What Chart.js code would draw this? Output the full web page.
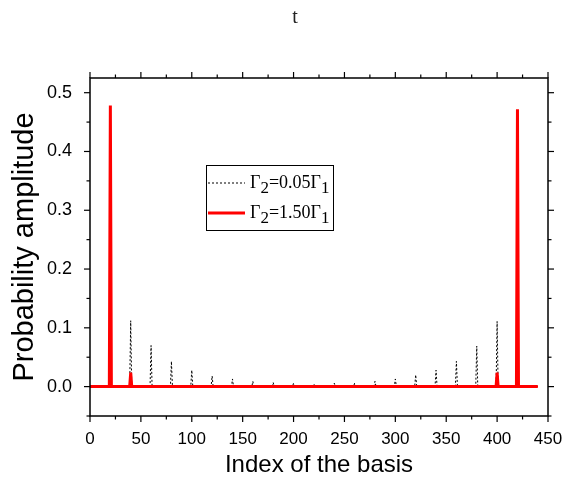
<!DOCTYPE html>
<html><head><meta charset="utf-8">
<script src="https://cdn.jsdelivr.net/npm/chart.js@4.4.0/dist/chart.umd.min.js"></script>
<style>html,body{margin:0;padding:0;background:#fff;}</style>
</head><body>
<canvas id="c" width="570" height="485" style="width:570px;height:485px;display:block"></canvas>
<script>
// ---- data ----
const chartTitle = 't';
const xAxisTitle = 'Index of the basis';
const yAxisTitle = 'Probability amplitude';
const seriesLabels = ['Γ2=0.05Γ1', 'Γ2=1.50Γ1'];
const basisRange = [0, 440];
const peakIndex = [20, 40, 60, 80, 100, 120, 140, 160, 180, 200, 220, 240, 260, 280, 300, 320, 340, 360, 380, 400, 420];
const amp005 = [0.46, 0.112, 0.070, 0.043, 0.028, 0.018, 0.013, 0.009, 0.007, 0.006, 0.005, 0.006, 0.006, 0.009, 0.013, 0.020, 0.028, 0.043, 0.069, 0.111, 0.46];
const amp150 = [0.478, 0.024, 0, 0, 0, 0, 0, 0, 0, 0, 0, 0, 0, 0, 0, 0, 0, 0, 0, 0.024, 0.472];
const xTicks = [0, 50, 100, 150, 200, 250, 300, 350, 400, 450];
const yTicks = [0.0, 0.1, 0.2, 0.3, 0.4, 0.5];

// build point lists (each peak is one basis index wide)
function buildPoints(amps) {
  const pts = [{x: basisRange[0], y: 0}];
  peakIndex.forEach((p, i) => {
    pts.push({x: p - 1, y: 0}, {x: p, y: amps[i]}, {x: p + 1, y: 0});
  });
  pts.push({x: basisRange[1], y: 0});
  return pts;
}

const fontSans = 'Liberation Sans';
const fontSerif = 'Liberation Serif';

function drawSubText(ctx, text, x, y, size) {
  // digit right after Γ is a subscript
  let cx = x;
  for (let i = 0; i < text.length; i++) {
    const ch = text[i];
    const sub = /[0-9]/.test(ch) && i > 0 && text[i - 1] === 'Γ';
    ctx.font = (sub ? size - 1 : size) + 'px "' + fontSerif + '"';
    ctx.fillText(ch, cx, sub ? y + 5 : y);
    cx += ctx.measureText(ch).width;
  }
}

const framePlugin = {
  id: 'frame',
  afterDatasetsDraw(chart) {
    const {ctx, chartArea: a, scales: {x, y}} = chart;
    ctx.save();
    ctx.strokeStyle = '#000';
    ctx.lineWidth = 1.5;
    ctx.strokeRect(a.left, a.top, a.right - a.left, a.bottom - a.top);
    ctx.lineWidth = 1.2;
    const seg = (x1, y1, x2, y2) => { ctx.beginPath(); ctx.moveTo(x1, y1); ctx.lineTo(x2, y2); ctx.stroke(); };
    for (let k = 0; k <= 18; k++) {
      const v = x.min + k * 25;
      const px = x.getPixelForValue(v);
      const len = k % 2 === 0 ? 6 : 3.5;
      seg(px, a.bottom, px, a.bottom + len);
      seg(px, a.top, px, a.top - len);
    }
    for (let k = 0; k <= 11; k++) {
      const v = -0.05 + k * 0.05;
      const py = y.getPixelForValue(v);
      const len = k % 2 === 1 ? 6 : 3.5;
      seg(a.left, py, a.left - len, py);
      seg(a.right, py, a.right + len, py);
    }
    // title
    ctx.fillStyle = '#222';
    ctx.font = '20px "' + fontSerif + '"';
    ctx.textAlign = 'center';
    ctx.textBaseline = 'alphabetic';
    ctx.fillText(chartTitle, 295, 23);
    // legend
    const ds = chart.data.datasets;
    const bx = 206, by = 165, bw = 127, bh = 65;
    ctx.fillStyle = '#fff';
    ctx.fillRect(bx, by, bw, bh);
    ctx.strokeStyle = '#000';
    ctx.lineWidth = 1;
    ctx.strokeRect(bx + 0.5, by + 0.5, bw, bh);
    const rows = [183, 213];
    [1, 0].forEach((di, r) => {
      const d = ds[di];
      ctx.strokeStyle = d.borderColor;
      ctx.lineWidth = d.borderWidth;
      ctx.setLineDash(d.borderDash || []);
      seg(208, rows[r], 245, rows[r]);
      ctx.setLineDash([]);
      ctx.fillStyle = '#000';
      ctx.textAlign = 'left';
      drawSubText(ctx, d.label, 250, rows[r] + 5, 18);
    });
    ctx.restore();
  }
};

new Chart(document.getElementById('c'), {
  type: 'line',
  data: {
    datasets: [
      {label: seriesLabels[1], data: buildPoints(amp150), borderColor: '#ff0000', borderWidth: 3, pointRadius: 0, tension: 0, order: 0},
      {label: seriesLabels[0], data: buildPoints(amp005), borderColor: '#000000', borderWidth: 1, borderDash: [2, 2], pointRadius: 0, tension: 0, order: 1}
    ]
  },
  options: {
    responsive: false,
    animation: false,
    layout: {padding: {top: 78, right: 22, left: 0, bottom: 0}},
    plugins: {legend: {display: false}, title: {display: false}, tooltip: {enabled: false}},
    scales: {
      x: {
        type: 'linear', min: 0, max: 450,
        afterBuildTicks: s => { s.ticks = xTicks.map(v => ({value: v})); },
        afterFit: s => { s.height = 69; },
        grid: {display: false}, border: {display: false},
        ticks: {padding: 5, maxRotation: 0, autoSkip: false, color: '#000', font: {family: fontSans, size: 17}},
        title: {display: true, text: xAxisTitle, color: '#000', font: {family: fontSans, size: 24}, padding: {top: 0, bottom: 5}}
      },
      y: {
        type: 'linear', min: -0.05, max: 0.525,
        afterBuildTicks: s => { s.ticks = yTicks.map(v => ({value: v})); },
        afterFit: s => { s.width = 90; },
        grid: {display: false}, border: {display: false},
        ticks: {padding: 10, autoSkip: false, color: '#000', font: {family: fontSans, size: 18}, callback: v => v.toFixed(1)},
        title: {display: true, text: yAxisTitle, color: '#000', font: {family: fontSans, size: 29}, padding: {top: 8, bottom: 0}}
      }
    }
  },
  plugins: [framePlugin]
});
</script>
</body></html>
